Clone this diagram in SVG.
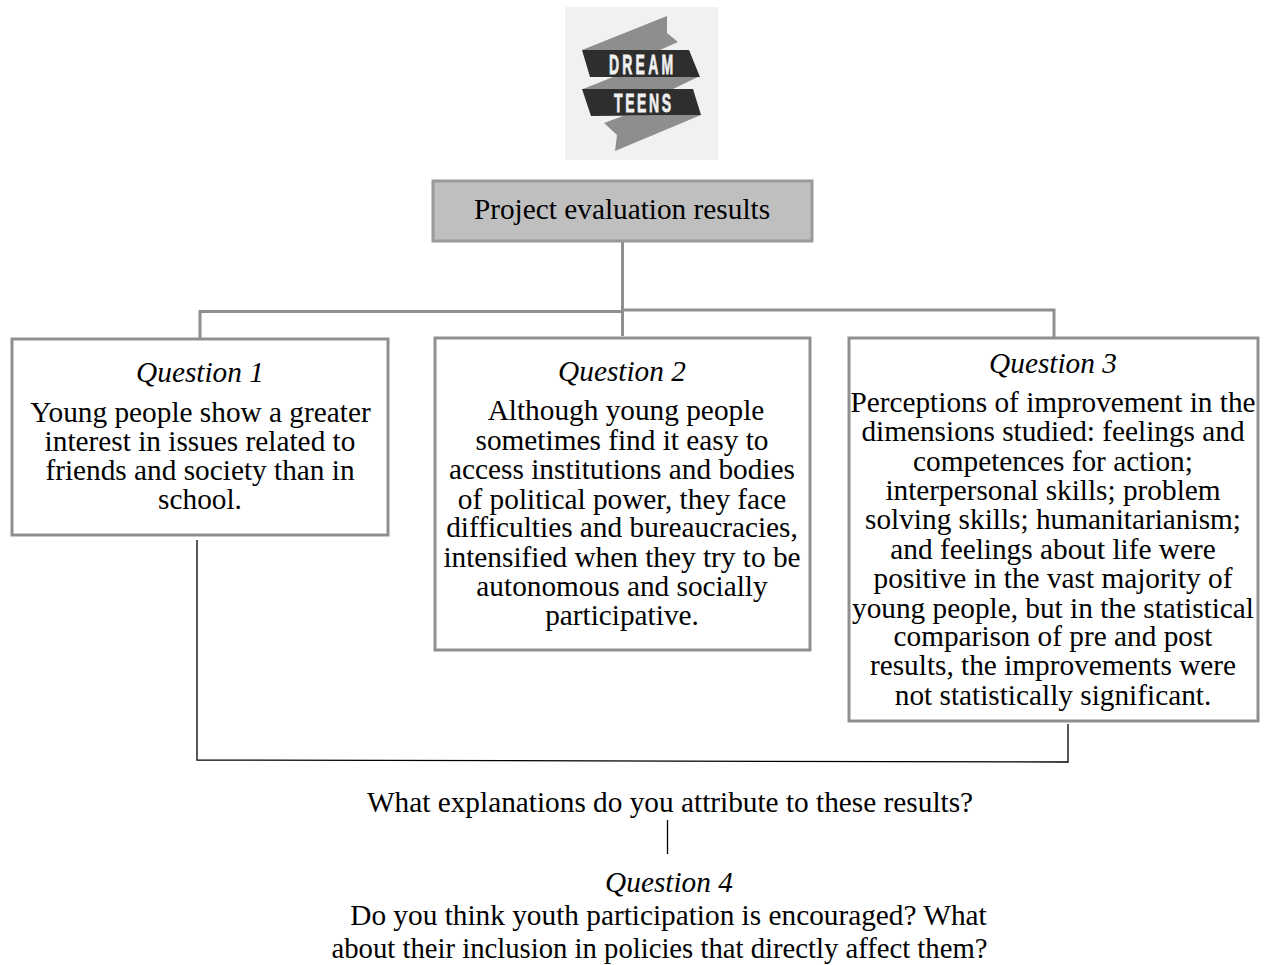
<svg xmlns="http://www.w3.org/2000/svg" width="1268" height="965" viewBox="0 0 1268 965">
<style>
text{font-family:"Liberation Serif","Times New Roman",serif;font-size:29.3px;fill:#000;text-anchor:middle}
.i{font-style:italic}
.b{fill:#fff;stroke:#8f8f8f;stroke-width:3}
.g{fill:none;stroke:#8f8f8f;stroke-width:3}
.k{fill:none;stroke:#000;stroke-width:1.3}
.r{fill:#8e8e8e}
.d{fill:#2e2e2e}
text.lg{font-family:"Liberation Sans",sans-serif;font-weight:700;font-size:28px;fill:#f0f0f0;stroke:#f0f0f0;stroke-width:.8;text-anchor:start}
</style>
<rect width="1268" height="965" fill="#fff"/>
<g id="logo">
<rect x="565" y="7" width="153" height="153" fill="#f1f1f1"/>
<path class="r" d="M582 50L667 16L667 33L678 42L660 50Z"/>
<path class="r" d="M583 89L613 77H698L673 89Z"/>
<path class="r" d="M604 123L623 116L701 115L615 151L617 135Z"/>
<path class="d" d="M582 50H689L700 77H590Z"/>
<path class="d" d="M582 89H693L701 115L591 116Z"/>
<text class="lg" transform="translate(609 74) scale(.5 1)" letter-spacing="6.400">DREAM</text>
<text class="lg" transform="translate(614 112) scale(.5 .95)" letter-spacing="5.200">TEENS</text>
</g>
<g id="connectors">
<path class="g" d="M622.500 241V336M622.500 311.500H200V339"/>
<path class="g" d="M622.500 310H1054V337" stroke-width="2.500"/>
<path class="k" d="M197 540V760L1068 762V724"/>
<path class="k" d="M667.500 820V854"/>
</g>
<g id="root">
<rect x="433" y="181" width="379" height="60" fill="#bfbfbf" stroke="#9a9a9a" stroke-width="3"/>
<text x="622" y="219">Project evaluation results</text>
</g>
<g id="q1">
<rect class="b" x="12" y="339" width="376" height="196"/>
<text class="i" x="200" y="382">Question 1</text>
<text x="200.500" y="422">Young people show a greater</text>
<text x="200" y="451">interest in issues related to</text>
<text x="200" y="480">friends and society than in</text>
<text x="200" y="509">school.</text>
</g>
<g id="q2">
<rect class="b" x="435" y="338" width="375" height="312"/>
<text class="i" x="622" y="381">Question 2</text>
<text x="626" y="420">Although young people</text>
<text x="622" y="450">sometimes find it easy to</text>
<text x="622" y="479">access institutions and bodies</text>
<text x="622" y="509">of political power, they face</text>
<text x="622" y="537">difficulties and bureaucracies,</text>
<text x="622" y="567">intensified when they try to be</text>
<text x="622" y="596">autonomous and socially</text>
<text x="622" y="625">participative.</text>
</g>
<g id="q3">
<rect class="b" x="849" y="338" width="409" height="383"/>
<text class="i" x="1053" y="373">Question 3</text>
<text x="1053" y="412">Perceptions of improvement in the</text>
<text x="1053" y="441">dimensions studied: feelings and</text>
<text x="1053" y="471">competences for action;</text>
<text x="1053" y="500">interpersonal skills; problem</text>
<text x="1053" y="529">solving skills; humanitarianism;</text>
<text x="1053" y="559">and feelings about life were</text>
<text x="1053" y="588">positive in the vast majority of</text>
<text x="1053" y="618">young people, but in the statistical</text>
<text x="1053" y="646">comparison of pre and post</text>
<text x="1053" y="675">results, the improvements were</text>
<text x="1053" y="705">not statistically significant.</text>
</g>
<g id="q4">
<text x="670" y="812">What explanations do you attribute to these results?</text>
<text class="i" x="669" y="892">Question 4</text>
<text x="668.500" y="925">Do you think youth participation is encouraged? What</text>
<text x="659.500" y="958" style="font-size:28.7px">about their inclusion in policies that directly affect them?</text>
</g>
</svg>
